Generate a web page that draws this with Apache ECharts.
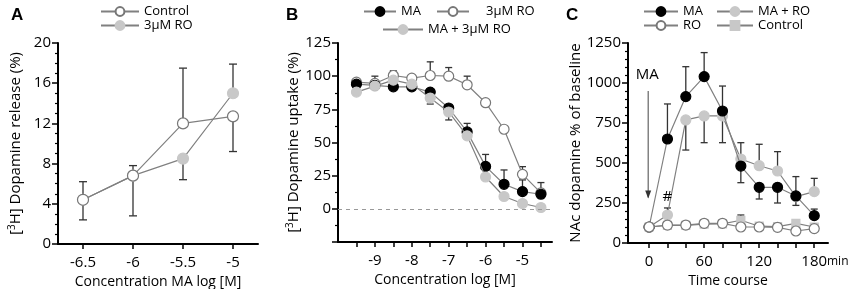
<!DOCTYPE html>
<html>
<head>
<meta charset="utf-8">
<script src="https://cdn.jsdelivr.net/npm/echarts@6/dist/echarts.min.js"></script>
<style>
html, body { margin: 0; padding: 0; background: #fff; }
#main { width: 850px; height: 289px; }
</style>
</head>
<body>
<div id="main"></div>
<script>
// panel A data
var aX = [-6.5, -6, -5.5, -5];
var aControl = [4.4, 6.8, 12.0, 12.7];
var aRO = [4.4, 6.8, 8.5, 15.0];
var aErr = [[-6.5, 2.4, 6.2], [-6, 2.8, 7.8], [-5.5, 12.0, 17.5], [-5, 9.2, 12.7], [-5.5, 6.4, 8.5], [-5, 15.0, 17.9]];

// panel B data
var bX = [-9.5, -9, -8.5, -8, -7.5, -7, -6.5, -6, -5.5, -5, -4.5];
var bMA = [94, 93, 92, 92, 88, 76, 58, 32, 18.5, 13, 11];
var bRO = [95.5, 94.5, 100.5, 98.5, 100.5, 100, 93.5, 80, 60, 26, 12];
var bMARO = [88, 92.5, 97, 94, 83.5, 73, 55, 24, 9.3, 4, 1];
var bErr = [[-9, 94.5, 100], [-8.5, 100.5, 104], [-7.5, 100.5, 110.8], [-7.5, 79, 83.5], [-7, 100, 106.5], [-7, 67, 73],
            [-6.5, 93.5, 100], [-6.5, 58, 64.4], [-6, 32, 41], [-5.5, 18.5, 29.3], [-5, 26, 31.8], [-5, 13, 21.8], [-4.5, 11, 19.8]];

// panel C data
var cX = [0, 20, 40, 60, 80, 100, 120, 140, 160, 180];
var cMA = [100, 650, 915, 1040, 825, 481, 348, 348, 294, 171];
var cMARO = [100, 175, 769, 794, 794, 525, 483, 450, 290, 321];
var cRO = [100, 112, 112, 123, 123, 100, 100, 98, 75, 90];
var cControl = [100, 110, 110, 118, 120, 142, 105, 102, 123, 100];
var cErr = [[20, 650, 869], [40, 915, 1102], [60, 1040, 1190], [80, 627, 981], [100, 377, 481], [120, 275, 348],
            [140, 250, 348], [160, 235, 415], [180, 171, 212], [40, 581, 769], [60, 627, 794], [100, 525, 627],
            [120, 483, 617], [140, 450, 571], [180, 321, 404], [100, 142, 175], [20, 175, 219]];
// MA injection arrow: x, start, end
var arrowX = -1;
var arrowFrom = 950;
var arrowTo = 285;

var FONT = 'Open Sans';
var chart = echarts.init(document.getElementById('main'));

function pairs(xs, ys) {
    var out = [];
    for (var i = 0; i < xs.length; i++) out.push([xs[i], ys[i]]);
    return out;
}

// error bars drawn with a custom series
function errSeries(idx, data, cap) {
    return {
        type: 'custom',
        xAxisIndex: idx, yAxisIndex: idx,
        z: 1,
        silent: true,
        data: data,
        renderItem: function (params, api) {
            var lo = api.coord([api.value(0), api.value(1)]);
            var hi = api.coord([api.value(0), api.value(2)]);
            var st = { stroke: '#333', lineWidth: 1.3 };
            return {
                type: 'group',
                children: [
                    { type: 'line', shape: { x1: lo[0], y1: lo[1], x2: hi[0], y2: hi[1] }, style: st },
                    { type: 'line', shape: { x1: hi[0] - cap, y1: hi[1], x2: hi[0] + cap, y2: hi[1] }, style: st },
                    { type: 'line', shape: { x1: lo[0] - cap, y1: lo[1], x2: lo[0] + cap, y2: lo[1] }, style: st }
                ]
            };
        }
    };
}

function lineSeries(idx, name, data, kind, size, z) {
    var fill = kind == 'black' ? '#000' : (kind == 'gray' ? '#c8c8c8' : '#fff');
    var border = kind == 'black' ? '#000' : (kind == 'gray' ? '#c8c8c8' : '#777');
    return {
        name: name,
        type: 'line',
        xAxisIndex: idx, yAxisIndex: idx,
        data: data,
        symbol: kind == 'square' ? 'rect' : 'circle',
        symbolSize: kind == 'square' ? size - 2 : size,
        showSymbol: true,
        z: z,
        lineStyle: { color: '#808080', width: 1.2 },
        itemStyle: {
            color: kind == 'square' ? '#c8c8c8' : fill,
            borderColor: kind == 'square' ? '#c8c8c8' : border,
            borderWidth: 1.2
        },
        emphasis: { disabled: true },
        animation: false
    };
}

var axisLineStyle = { show: true, onZero: false, lineStyle: { color: '#000', width: 2 } };
var nameStyle = { color: '#000', fontFamily: FONT, fontSize: 14 };
var yNameStyle = { color: '#000', fontFamily: FONT, fontSize: 15,
    rich: { sup: { fontFamily: FONT, fontSize: 10, color: '#000', verticalAlign: 'top', padding: [0, 0, 7, 0] } } };
var legText = { fontFamily: FONT, fontSize: 13, color: '#000' };
var LS = 15;

var option = {
    animation: false,
    title: [
        { text: 'A', left: 6, top: 2, textStyle: { fontFamily: 'Liberation Sans', fontWeight: 'bold', fontSize: 17, color: '#000' } },
        { text: 'B', left: 281, top: 2, textStyle: { fontFamily: 'Liberation Sans', fontWeight: 'bold', fontSize: 17, color: '#000' } },
        { text: 'C', left: 561, top: 2, textStyle: { fontFamily: 'Liberation Sans', fontWeight: 'bold', fontSize: 17, color: '#000' } }
    ],
    legend: [
        { data: ['Control', '3\u03bcM RO'], orient: 'vertical', left: 95, top: 0, itemWidth: 38, itemHeight: 11, itemGap: 1,
          textStyle: legText, selectedMode: false },
        { data: ['MA'], left: 358, top: 0, itemWidth: 32, itemHeight: 11, textStyle: legText, selectedMode: false },
        { data: [{ name: '3\u03bcM RO ', textStyle: { padding: [0, 0, 0, 12] } }], left: 431, top: 0, itemWidth: 32, itemHeight: 11,
          textStyle: legText, selectedMode: false },
        { data: ['MA + 3\u03bcM RO'], left: 377, top: 18, itemWidth: 40, itemHeight: 11,
          textStyle: legText, selectedMode: false },
        { data: ['MA ', 'RO'], orient: 'vertical', left: 638, top: 0, itemWidth: 34, itemHeight: 11, itemGap: 1,
          textStyle: legText, selectedMode: false },
        { data: ['MA + RO', 'Control '], orient: 'vertical', left: 711, top: 0, itemWidth: 36, itemHeight: 11, itemGap: 1,
          textStyle: legText, selectedMode: false }
    ],
    grid: [
        { left: 58, top: 43, width: 200, height: 201, outerBoundsMode: 'none', containLabel: false },
        { left: 338, top: 43, width: 214, height: 199, outerBoundsMode: 'none', containLabel: false },
        { left: 628, top: 43, width: 200, height: 200, outerBoundsMode: 'none', containLabel: false }
    ],
    xAxis: [
        { type: 'value', gridIndex: 0, min: -6.75, max: -4.75,
          name: 'Concentration MA log [M]', nameLocation: 'middle', nameGap: 30, nameTextStyle: nameStyle,
          axisLine: axisLineStyle, splitLine: { show: false },
          axisTick: { show: true, customValues: aX, length: 5, lineStyle: { color: '#000', width: 1.5 } },
          axisLabel: { customValues: aX, color: '#000', fontFamily: FONT, fontSize: LS, margin: 11 } },
        { type: 'value', gridIndex: 1, min: -10, max: -4.2,
          name: 'Concentration log [M]', nameLocation: 'middle', nameGap: 31, nameTextStyle: nameStyle,
          axisLine: axisLineStyle, splitLine: { show: false },
          axisTick: { show: true, customValues: bX, length: 5, lineStyle: { color: '#000', width: 1.5 } },
          axisLabel: { customValues: [-9, -8, -7, -6, -5], color: '#000', fontFamily: FONT, fontSize: LS, margin: 11 } },
        { type: 'value', gridIndex: 2, min: -23, max: 195,
          name: 'Time course', nameLocation: 'middle', nameGap: 31, nameTextStyle: nameStyle,
          axisLine: axisLineStyle, splitLine: { show: false },
          axisTick: { show: true, customValues: cX, length: 5, lineStyle: { color: '#000', width: 1.5 } },
          axisLabel: { customValues: [0, 60, 120, 180], color: '#000', fontFamily: FONT, fontSize: LS, margin: 11 } }
    ],
    yAxis: [
        { type: 'value', gridIndex: 0, min: 0, max: 20, interval: 4,
          name: '[{sup|3}H] Dopamine release (%)', nameLocation: 'middle', nameGap: 34, nameTextStyle: yNameStyle,
          axisLine: axisLineStyle, splitLine: { show: false },
          axisTick: { show: true, length: 6, lineStyle: { color: '#000', width: 1.5 } },
          minorTick: { show: true, splitNumber: 4, length: 3, lineStyle: { color: '#000', width: 1.2 } },
          axisLabel: { color: '#000', fontFamily: FONT, fontSize: LS, margin: 7 } },
        { type: 'value', gridIndex: 1, min: -25, max: 125, interval: 25,
          name: '[{sup|3}H] Dopamine uptake (%)', nameLocation: 'middle', nameGap: 35, nameTextStyle: yNameStyle,
          axisLine: axisLineStyle, splitLine: { show: false },
          axisTick: { show: true, length: 6, lineStyle: { color: '#000', width: 1.5 } },
          minorTick: { show: true, splitNumber: 2, length: 3, lineStyle: { color: '#000', width: 1.2 } },
          axisLabel: { color: '#000', fontFamily: FONT, fontSize: LS, margin: 7,
            formatter: function (v) { return v < 0 ? '' : String(v); } } },
        { type: 'value', gridIndex: 2, min: 0, max: 1250, interval: 250,
          name: 'NAc dopamine % of baseline', nameLocation: 'middle', nameGap: 40, nameTextStyle: yNameStyle,
          axisLine: axisLineStyle, splitLine: { show: false },
          axisTick: { show: true, length: 6, lineStyle: { color: '#000', width: 1.5 } },
          minorTick: { show: true, splitNumber: 5, length: 3, lineStyle: { color: '#000', width: 1.2 } },
          axisLabel: { color: '#000', fontFamily: FONT, fontSize: LS, margin: 7,
            formatter: function (v) { return String(v); } } }
    ],
    graphic: [
        { type: 'text', left: 827, top: 256, style: { text: 'min', fontFamily: FONT, fontSize: 12, fill: '#000' } }
    ],
    series: [
        errSeries(0, aErr, 4),
        lineSeries(0, '3\u03bcM RO', pairs(aX, aRO), 'gray', 11, 2),
        lineSeries(0, 'Control', pairs(aX, aControl), 'open', 11, 3),

        errSeries(1, bErr, 3.5),
        (function () {
            var s = lineSeries(1, '3\u03bcM RO ', pairs(bX, bRO), 'open', 10, 2);
            s.markLine = { silent: true, symbol: 'none', label: { show: false },
                lineStyle: { color: '#999', type: [4, 4], width: 1 }, data: [{ yAxis: 0 }] };
            return s;
        })(),
        lineSeries(1, 'MA', pairs(bX, bMA), 'black', 10, 3),
        lineSeries(1, 'MA + 3\u03bcM RO', pairs(bX, bMARO), 'gray', 10, 4),

        errSeries(2, cErr, 3.5),
        // arrow marking the MA injection
        {
            name: 'arrow', type: 'line', xAxisIndex: 2, yAxisIndex: 2, z: 6, silent: true,
            showSymbol: true, symbol: 'none',
            lineStyle: { color: '#555', width: 1.1 },
            itemStyle: { color: '#333' },
            data: [
                { value: [arrowX, arrowFrom], symbol: 'none' },
                { value: [arrowX, arrowTo], symbol: 'triangle', symbolSize: [6, 8], symbolRotate: 180, symbolOffset: [0, -3] }
            ],
            emphasis: { disabled: true }
        },
        (function () {
            var s = lineSeries(2, 'MA + RO', pairs(cX, cMARO), 'gray', 10, 2);
            s.markPoint = { silent: true, symbol: 'circle', symbolSize: 0,
                label: { show: true, color: '#000', fontFamily: FONT, fontSize: 15, formatter: '{b}' },
                data: [{ name: '#', coord: [20, 290] }, { name: 'MA', coord: [-2, 1050] }] };
            return s;
        })(),
        lineSeries(2, 'MA ', pairs(cX, cMA), 'black', 10, 3),
        lineSeries(2, 'Control ', pairs(cX, cControl), 'square', 10, 4),
        lineSeries(2, 'RO', pairs(cX, cRO), 'open', 10, 5)
    ]
};

chart.setOption(option);
</script>
</body>
</html>
